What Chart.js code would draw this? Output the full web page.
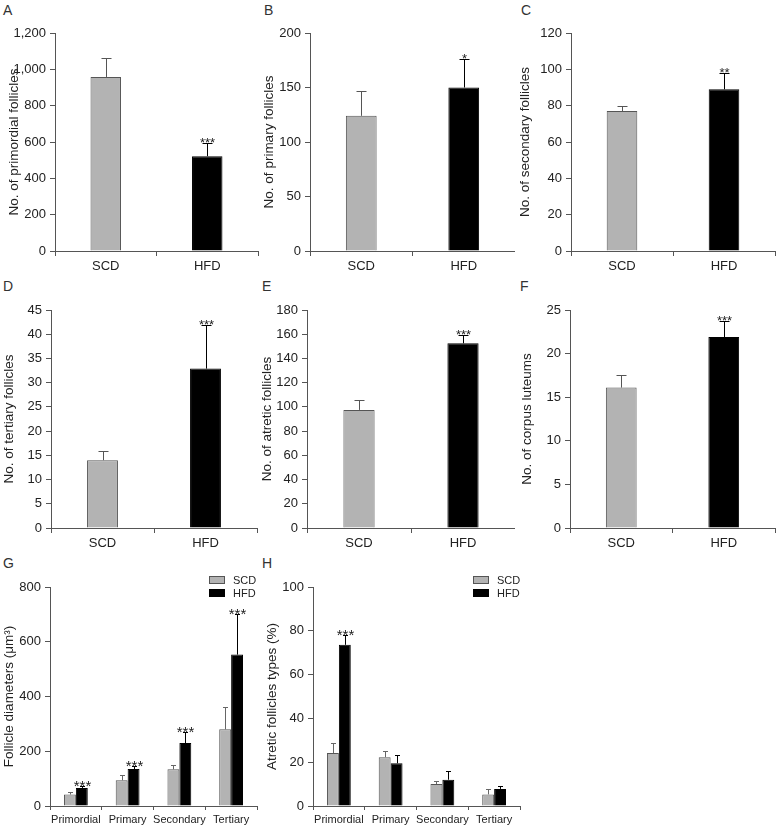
<!DOCTYPE html>
<html>
<head>
<meta charset="utf-8">
<script src="https://cdn.jsdelivr.net/npm/chart.js@4"></script>
<style>
  body { margin: 0; background: #fff; width: 776px; height: 826px; position: relative; overflow: hidden; }
  canvas { position: absolute; }
  .tag { position: absolute; font: 14px "Liberation Sans", Arial, sans-serif; color: #333; line-height: 14px; }
</style>
</head>
<body>
<div class="tag" style="left:3px;top:3px">A</div>
<div class="tag" style="left:264px;top:3px">B</div>
<div class="tag" style="left:521px;top:3px">C</div>
<div class="tag" style="left:3px;top:279px">D</div>
<div class="tag" style="left:262px;top:279px">E</div>
<div class="tag" style="left:520px;top:279px">F</div>
<div class="tag" style="left:3px;top:556px">G</div>
<div class="tag" style="left:262px;top:556px">H</div>

<canvas id="chartA" width="260" height="280" style="left:0px;top:0px"></canvas>
<canvas id="chartB" width="260" height="280" style="left:255px;top:0px"></canvas>
<canvas id="chartC" width="260" height="280" style="left:516px;top:0px"></canvas>
<canvas id="chartD" width="260" height="280" style="left:0px;top:277px"></canvas>
<canvas id="chartE" width="260" height="280" style="left:255px;top:277px"></canvas>
<canvas id="chartF" width="260" height="280" style="left:516px;top:277px"></canvas>
<canvas id="chartG" width="260" height="266" style="left:0px;top:560px"></canvas>
<canvas id="chartH" width="260" height="266" style="left:262px;top:560px"></canvas>

<script>
Chart.defaults.font.family = '"Liberation Sans", Arial, sans-serif';
Chart.defaults.color = '#222';

// groups for panels A-F
const groups = ['SCD', 'HFD'];
const stages = ['Primordial', 'Primary', 'Secondary', 'Tertiary'];

// means and (upper) error values
const primordialMean = [958, 522];
const primordialErr = [105, 73];
const primaryMean = [124, 150];
const primaryErr = [23, 26];
const secondaryMean = [77, 89];
const secondaryErr = [3, 9];
const tertiaryMean = [14, 32.9];
const tertiaryErr = [1.8, 9.1];
const atreticMean = [97.5, 152.5];
const atreticErr = [8.5, 7];
const corpusMean = [16.1, 21.9];
const corpusErr = [1.4, 1.8];

// significance marks
const starsA = ['', '***'];
const starsB = ['', '*'];
const starsC = ['', '**'];
const starsD = ['', '***'];
const starsE = ['', '***'];
const starsF = ['', '***'];

// G: follicle diameters
const diamSCD = [42, 94, 134, 280];
const diamSCDErr = [8, 20, 17, 82];
const diamHFD = [66, 135, 230, 553];
const diamHFDErr = [7, 11, 42, 147];
const starsG = ['***', '***', '***', '***'];

// H: atretic follicle types
const atrSCD = [24.2, 22.3, 10.0, 5.3];
const atrSCDErr = [4.5, 2.6, 1.2, 2.3];
const atrHFD = [73.6, 19.5, 12.0, 7.8];
const atrHFDErr = [4.5, 3.6, 4.0, 1.5];
const starsH = ['***', '', '', ''];

const gray = '#b3b3b3';
const axisColor = '#555';

// error bars + stars, drawn with the chart's own y scale
const errorBars = {
    id: 'errorBars',
    afterDatasetsDraw(chart, args, opts) {
        const ctx = chart.ctx;
        const y = chart.scales.y;
        chart.data.datasets.forEach((ds, i) => {
            const meta = chart.getDatasetMeta(i);
            meta.data.forEach((bar, j) => {
                if (!ds.errors) return;
                const top = Math.round(y.getPixelForValue(ds.data[j] + ds.errors[j])) + 0.5;
                const x = Math.round(bar.x) + 0.5;
                ctx.save();
                ctx.strokeStyle = Array.isArray(ds.errorColor) ? ds.errorColor[j] : ds.errorColor;
                ctx.lineWidth = 1;
                ctx.beginPath();
                ctx.moveTo(x, bar.y);
                ctx.lineTo(x, top);
                ctx.moveTo(x - opts.cap, top);
                ctx.lineTo(x + opts.cap, top);
                ctx.stroke();
                if (ds.stars && ds.stars[j]) {
                    ctx.fillStyle = '#222';
                    ctx.font = opts.starSize + 'px "Liberation Sans", Arial, sans-serif';
                    ctx.textAlign = 'center';
                    ctx.textBaseline = 'alphabetic';
                    ctx.fillText(ds.stars[j], x, top + opts.starSize * 0.3);
                }
                ctx.restore();
            });
        });
    }
};

// small boxed legend drawn in the corner (G and H), coordinates inside the canvas
const boxLegend = {
    id: 'boxLegend',
    afterDraw(chart, args, opts) {
        if (!opts.show) return;
        const ctx = chart.ctx;
        chart.data.datasets.forEach((ds, i) => {
            const yy = opts.y + i * 13;
            ctx.save();
            ctx.fillStyle = ds.backgroundColor;
            ctx.fillRect(opts.x, yy, 16, 8);
            ctx.strokeStyle = ds.borderColor;
            ctx.lineWidth = 1;
            ctx.strokeRect(opts.x + 0.5, yy + 0.5, 15, 7);
            ctx.fillStyle = '#222';
            ctx.font = '11px "Liberation Sans", Arial, sans-serif';
            ctx.textBaseline = 'middle';
            ctx.fillText(ds.label, opts.x + 24, yy + 4.5);
            ctx.restore();
        });
    }
};

function makeOptions(p) {
    return {
        responsive: false,
        animation: false,
        layout: {
            padding: { top: p.padTop, right: p.padRight, left: 0, bottom: 0 }
        },
        plugins: {
            legend: { display: false },
            tooltip: { enabled: false },
            errorBars: { cap: p.cap, starSize: p.starSize },
            boxLegend: p.legend || { show: false }
        },
        scales: {
            x: {
                grid: { drawOnChartArea: false, tickLength: p.tickLenX, color: axisColor },
                border: { color: axisColor },
                ticks: { font: { size: p.xFont }, padding: 3, color: '#222', maxRotation: 0, autoSkip: false },
                afterFit: (s) => { s.height = p.axisH; }
            },
            y: {
                min: 0,
                max: p.max,
                grid: { drawOnChartArea: false, tickLength: 5, color: axisColor },
                border: { color: axisColor },
                ticks: { stepSize: p.step, font: { size: 13 }, padding: 4, color: '#222' },
                title: {
                    display: true,
                    text: p.title,
                    font: { size: 13.5 },
                    color: '#222',
                    padding: { top: p.titlePad, bottom: 0 }
                },
                afterFit: (s) => { s.width = p.axisW; }
            }
        }
    };
}

function pairChart(id, mean, err, stars, p) {
    const ctx = document.getElementById(id).getContext('2d');
    return new Chart(ctx, {
        type: 'bar',
        data: {
            labels: groups,
            datasets: [{
                data: mean,
                errors: err,
                stars: stars,
                errorColor: ['#555', '#000'],
                backgroundColor: [gray, '#000'],
                borderColor: ['#555', '#000'],
                borderWidth: 1,
                categoryPercentage: 1,
                barPercentage: 0.3
            }]
        },
        options: makeOptions(Object.assign({ padTop: 33, axisH: 29, tickLenX: 5, xFont: 13, cap: 5, starSize: 13 }, p)),
        plugins: [errorBars]
    });
}

// 1. Panels A-F
pairChart('chartA', primordialMean, primordialErr, starsA, { max: 1200, step: 200, title: 'No. of primordial follicles', axisW: 55, padRight: 2, titlePad: 6 });
pairChart('chartB', primaryMean, primaryErr, starsB, { max: 200, step: 50, title: 'No. of primary follicles', axisW: 55, padRight: 0, titlePad: 6 });
pairChart('chartC', secondaryMean, secondaryErr, starsC, { max: 120, step: 20, title: 'No. of secondary follicles', axisW: 55, padRight: 1, titlePad: 1 });
pairChart('chartD', tertiaryMean, tertiaryErr, starsD, { max: 45, step: 5, title: 'No. of tertiary follicles', axisW: 51, padRight: 3, titlePad: 1 });
pairChart('chartE', atreticMean, atreticErr, starsE, { max: 180, step: 20, title: 'No. of atretic follicles', axisW: 52, padRight: 0, titlePad: 4 });
pairChart('chartF', corpusMean, corpusErr, starsF, { max: 25, step: 5, title: 'No. of corpus luteums', axisW: 54, padRight: 1, titlePad: 3 });

function stageChart(id, scd, scdErr, hfd, hfdErr, stars, p) {
    const ctx = document.getElementById(id).getContext('2d');
    return new Chart(ctx, {
        type: 'bar',
        data: {
            labels: stages,
            datasets: [{
                label: 'SCD',
                data: scd,
                errors: scdErr,
                errorColor: '#666',
                backgroundColor: gray,
                borderColor: '#555',
                borderWidth: 1,
                categoryPercentage: 0.46,
                barPercentage: 1
            }, {
                label: 'HFD',
                data: hfd,
                errors: hfdErr,
                stars: stars,
                errorColor: '#000',
                backgroundColor: '#000',
                borderColor: '#000',
                borderWidth: 1,
                categoryPercentage: 0.46,
                barPercentage: 1
            }]
        },
        options: makeOptions(Object.assign({ padTop: 27, axisH: 20, tickLenX: 4, xFont: 11, cap: 2.5, starSize: 15 }, p)),
        plugins: [errorBars, boxLegend]
    });
}

// 2. Panels G and H
stageChart('chartG', diamSCD, diamSCDErr, diamHFD, diamHFDErr, starsG,
    { max: 800, step: 200, title: 'Follicle diameters (\u03bcm\u00b3)', axisW: 50, padRight: 3, titlePad: 1, legend: { show: true, x: 209, y: 16 } });
stageChart('chartH', atrSCD, atrSCDErr, atrHFD, atrHFDErr, starsH,
    { max: 100, step: 20, title: 'Atretic follicles types (%)', axisW: 51, padRight: 2, titlePad: 2, legend: { show: true, x: 211, y: 16 } });
</script>
</body>
</html>
